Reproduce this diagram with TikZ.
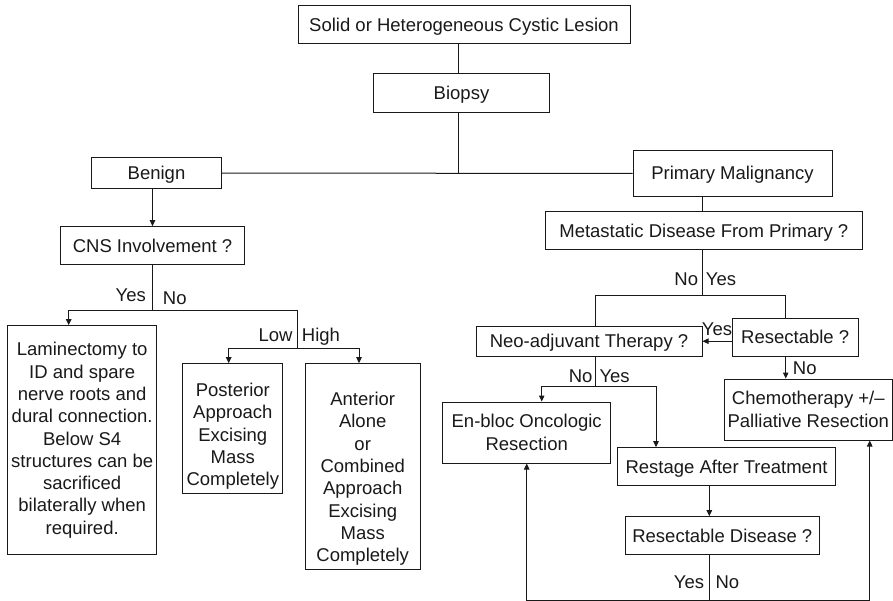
\documentclass[tikz,border=0pt]{standalone}
\usepackage{fontspec}
\setmainfont{Liberation Sans}
\usetikzlibrary{arrows.meta}
\newcommand\dfont{\fontsize{18.5}{22.3}\selectfont}
\definecolor{ink}{gray}{0.1}
\begin{document}
\begin{tikzpicture}[x=1pt,y=-1pt,
 box/.style={draw=ink, text=ink, line width=1pt, inner sep=0pt, align=center, font=\dfont},
 one/.style={box, text height=13.2pt, text depth=0pt},
 lbl/.style={inner sep=0pt, text=ink, font=\dfont},
 link/.style={draw=ink, line width=1pt},
 arr/.style={link, -{Triangle[length=6pt,width=5.5pt]}}]
\useasboundingbox (0,0) rectangle (893,601);

\node[one, minimum width=332pt, minimum height=38.7pt] (top) at (464,24.5) {Solid or Heterogeneous Cystic Lesion};
\node[one, minimum width=175.6pt, minimum height=38.3pt] (biopsy) at (461.5,93) {Biopsy};
\node[one, minimum width=130.4pt, minimum height=31pt] (benign) at (156.5,173.2) {Benign};
\node[one, minimum width=199pt, minimum height=46pt] (pm) at (732.5,173.3) {Primary Malignancy};
\node[one, minimum width=183.6pt, minimum height=38.3pt] (cns) at (152.5,245.8) {CNS Involvement ?};
\node[one, minimum width=317pt, minimum height=38.4pt] (meta) at (703.8,230.5) {Metastatic Disease From Primary ?};
\node[box, minimum width=149pt, minimum height=229.3pt] (lam) at (82.2,440.3) {Laminectomy to\\ID and spare\\nerve roots and\\dural connection.\\Below S4\\structures can be\\sacrificed\\bilaterally when\\required.};
\node[box, minimum width=99.7pt, minimum height=129.6pt] (post) at (232.8,428.5) {\rule{0pt}{29pt}Posterior\\Approach\\Excising\\Mass\\Completely};
\node[box, minimum width=114.7pt, minimum height=206.3pt] (ant) at (362.7,466.8) {\rule{0pt}{37.6pt}Anterior\\Alone\\or\\Combined\\Approach\\Excising\\Mass\\Completely};
\node[one, minimum width=226pt, minimum height=29.7pt] (neo) at (589,341.2) {Neo-adjuvant Therapy ?};
\node[one, minimum width=125.7pt, minimum height=37.7pt] (res) at (795.2,337.2) {Resectable ?};
\node[box, minimum width=168pt, minimum height=61pt] (chemo) at (808.3,409.5) {Chemotherapy +/–\\Palliative Resection};
\node[box, minimum width=168pt, minimum height=61pt] (enbloc) at (526.7,432.5) {En-bloc Oncologic\\Resection};
\node[one, minimum width=217.6pt, minimum height=38.3pt] (restage) at (726.5,466.8) {Restage After Treatment};
\node[one, minimum width=194pt, minimum height=38pt] (resdis) at (722.3,535.7) {Resectable Disease ?};

\coordinate (j1) at (458,173.2);
\coordinate (a1) at (68.7,310);
\coordinate (a2) at (297.7,310);
\coordinate (b1) at (228.7,348.3);
\coordinate (b2) at (359,348.3);
\coordinate (c0) at (702,295);
\coordinate (c1) at (595,295);
\coordinate (c2) at (785.7,295);
\coordinate (d0) at (595,386.7);
\coordinate (d1) at (541.7,386.7);
\coordinate (d2) at (656,386.7);
\coordinate (e0) at (709.3,600);
\coordinate (e1) at (526.7,600);
\coordinate (e2) at (869.7,600);

\draw[link] (top.south -| j1) -- (biopsy.north -| j1);
\draw[link] (biopsy.south -| j1) -- (j1);
\draw[link] (benign.east) -- (pm.west);
\draw[arr] (benign.south -| cns.north) -- (cns.north);
\draw[link] (cns.south) -- (cns.south |- a1);
\draw[arr] (a2) -- (a1) -- (a1 |- lam.north);
\draw[link] (a2) -- (a2 |- b1);
\draw[arr] (b2) -- (b1) -- (b1 |- post.north);
\draw[arr] (b1) -- (b2) -- (b2 |- ant.north);

\draw[link] (pm.south -| c0) -- (meta.north -| c0);
\draw[link] (meta.south -| c0) -- (c0);
\draw[link] (c1 |- neo.north) -- (c1) -- (c2) -- (c2 |- res.north);
\draw[arr] (res.west |- neo.east) -- (neo.east);
\draw[arr] (c2 |- res.south) -- (c2 |- chemo.north);
\draw[link] (neo.south -| d0) -- (d0);
\draw[arr] (d0) -- (d1) -- (d1 |- enbloc.north);
\draw[arr] (d0) -- (d2) -- (d2 |- restage.north);
\draw[arr] (restage.south -| e0) -- (resdis.north -| e0);
\draw[link] (resdis.south -| e0) -- (e0);
\draw[arr] (e0) -- (e1) -- (e1 |- enbloc.south);
\draw[arr] (e0) -- (e2) -- (e2 |- chemo.south);

\node[lbl, anchor=base east] (l1) at (146,301.7) {Yes};
\node[lbl, anchor=base west] (l2) at (162.7,304) {No};
\node[lbl, anchor=base east] (l3) at (292.7,341) {Low};
\node[lbl, anchor=base west] (l4) at (301.7,341) {High};
\node[lbl, anchor=base east] (l5) at (698.3,286) {No};
\node[lbl, anchor=base west] (l6) at (705.7,286) {Yes};
\node[lbl, anchor=base west] (l7) at (701.7,335) {Yes};
\node[lbl, anchor=base west] (l8) at (792.7,374.3) {No};
\node[lbl, anchor=base east] (l9) at (592.7,382.3) {No};
\node[lbl, anchor=base west] (l10) at (599.3,382.3) {Yes};
\node[lbl, anchor=base east] (l11) at (704.3,588.3) {Yes};
\node[lbl, anchor=base west] (l12) at (715.3,588.3) {No};
\end{tikzpicture}
\end{document}
